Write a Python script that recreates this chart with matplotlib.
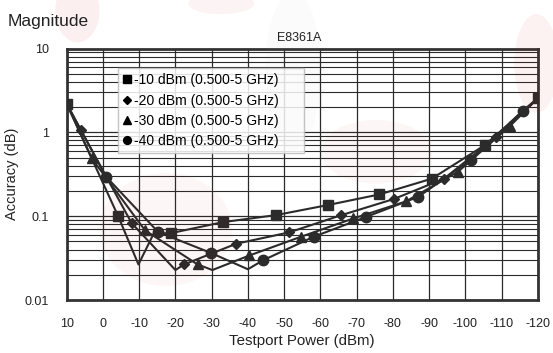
import numpy as np
import matplotlib
matplotlib.use("Agg")
import matplotlib.pyplot as plt
from matplotlib.patches import Ellipse

plt.rcParams["font.family"] = ["Liberation Sans", "DejaVu Sans"]

# data (x = testport power dBm, y = accuracy dB)
x_10 = [10, -4.2, -9.8, -14.0, -18.9, -33.1, -47.7, -62.1, -76.3, -90.7, -105.3, -120]
y_10 = [2.2, 0.10, 0.0266, 0.062, 0.063, 0.085, 0.103, 0.136, 0.182, 0.28, 0.70, 2.55]
mk_10 = [0, 1, 4, 5, 6, 7, 8, 9, 10, 11]

x_20 = [10, 6.1, -7.9, -20.0, -22.4, -36.8, -51.3, -65.8, -80.2, -94.1, -108.5, -120]
y_20 = [2.2, 1.06, 0.083, 0.0228, 0.0266, 0.047, 0.064, 0.103, 0.16, 0.28, 0.88, 2.55]
mk_20 = [1, 2, 4, 5, 6, 7, 8, 9, 10]

x_30 = [10, 3.1, -11.6, -26.1, -30.2, -40.4, -54.7, -69.1, -83.6, -98.0, -112.3, -120]
y_30 = [2.2, 0.49, 0.068, 0.0266, 0.0228, 0.034, 0.057, 0.094, 0.15, 0.34, 1.19, 2.55]
mk_30 = [1, 2, 3, 5, 6, 7, 8, 9, 10]

x_40 = [10, -0.9, -15.2, -29.7, -40.0, -44.1, -58.2, -72.6, -87.0, -101.5, -115.8, -120]
y_40 = [2.2, 0.295, 0.065, 0.0366, 0.0233, 0.0297, 0.057, 0.098, 0.17, 0.47, 1.81, 2.55]
mk_40 = [1, 2, 3, 5, 6, 7, 8, 9, 10]

labels = ["-10 dBm (0.500-5 GHz)", "-20 dBm (0.500-5 GHz)",
          "-30 dBm (0.500-5 GHz)", "-40 dBm (0.500-5 GHz)"]
xticks = [10, 0, -10, -20, -30, -40, -50, -60, -70, -80, -90, -100, -110, -120]
yticks = [0.01, 0.1, 1, 10]
ytick_labels = ["0.01", "0.1", "1", "10"]

ink = "#2b2b2b"
txt = "#222222"

fig = plt.figure(figsize=(5.53, 3.53), dpi=100)
fig.patch.set_facecolor("white")

# faint watermark blobs behind everything
for (cx, cy, w, h, c, a) in [
    (0.14, 0.97, 0.08, 0.18, "#d22a2a", 0.07),
    (0.40, 0.99, 0.12, 0.06, "#d22a2a", 0.05),
    (0.53, 0.80, 0.10, 0.45, "#9a9a9a", 0.04),
    (0.97, 0.82, 0.08, 0.28, "#d22a2a", 0.06),
    (0.30, 0.35, 0.24, 0.32, "#d22a2a", 0.04),
    (0.68, 0.57, 0.20, 0.18, "#d22a2a", 0.04),
]:
    fig.patches.append(Ellipse((cx, cy), w, h, transform=fig.transFigure,
                               facecolor=c, alpha=a, edgecolor="none", zorder=0))

ax = fig.add_axes([0.1206, 0.150, 0.852, 0.7125])
ax.set_facecolor("none")

ax.set_yscale("log")
ax.set_xlim(10, -120)
ax.set_ylim(0.01, 10)

series = [
    (x_10, y_10, mk_10, "s", 7.5),
    (x_20, y_20, mk_20, "D", 5.0),
    (x_30, y_30, mk_30, "^", 7.0),
    (x_40, y_40, mk_40, "o", 7.5),
]
handles = []
for (xs, ys, mk, m, ms), lab in zip(series, labels):
    ax.plot(xs, ys, color=ink, lw=1.5, marker=m, ms=ms, markevery=mk,
            markerfacecolor=ink, markeredgecolor=ink, zorder=3)
    h, = ax.plot([], [], ls="none", marker=m, ms=ms * 0.75, color="black", label=lab)
    handles.append(h)

# grid
ax.set_xticks(xticks)
ax.set_xticklabels([str(t) for t in xticks])
ax.set_yticks(yticks)
ax.set_yticklabels(ytick_labels)
ax.yaxis.set_minor_locator(matplotlib.ticker.LogLocator(base=10, subs=np.arange(2, 10)))
ax.yaxis.set_minor_formatter(matplotlib.ticker.NullFormatter())
ax.grid(True, which="major", color=ink, lw=0.9)
ax.grid(True, which="minor", axis="y", color=ink, lw=0.8)
ax.tick_params(which="both", length=0)
ax.tick_params(axis="x", pad=13, labelsize=9, colors=txt)
ax.tick_params(axis="y", pad=12.5, labelsize=9, colors=txt)
for sp in ax.spines.values():
    sp.set_color("#333333")
    sp.set_linewidth(2.0)
ax.set_axisbelow(True)

ax.set_xlabel("Testport Power (dBm)", fontsize=10.8, labelpad=3, color=txt)
ax.set_ylabel("Accuracy (dB)", fontsize=10.5, color=txt)
ax.yaxis.set_label_coords(-0.102, 0.5)

leg = ax.legend(handles=handles, loc="upper left", mode="expand",
                bbox_to_anchor=(0.108, 0.0, 0.395, 0.921),
                fontsize=10, frameon=True, fancybox=False, framealpha=0.85,
                edgecolor="#bbbbbb", handlelength=0.7, handletextpad=0.15,
                labelspacing=0.45, borderpad=0.35, borderaxespad=0)
leg.get_frame().set_linewidth(1.0)
leg.set_zorder(5)

fig.text(0.013, 0.94, "Magnitude", fontsize=12.5, color=txt, va="center")
fig.text(0.5416, 0.892, "E8361A", fontsize=9, color=txt, ha="center", va="center")

fig.savefig("out.png", dpi=100)
